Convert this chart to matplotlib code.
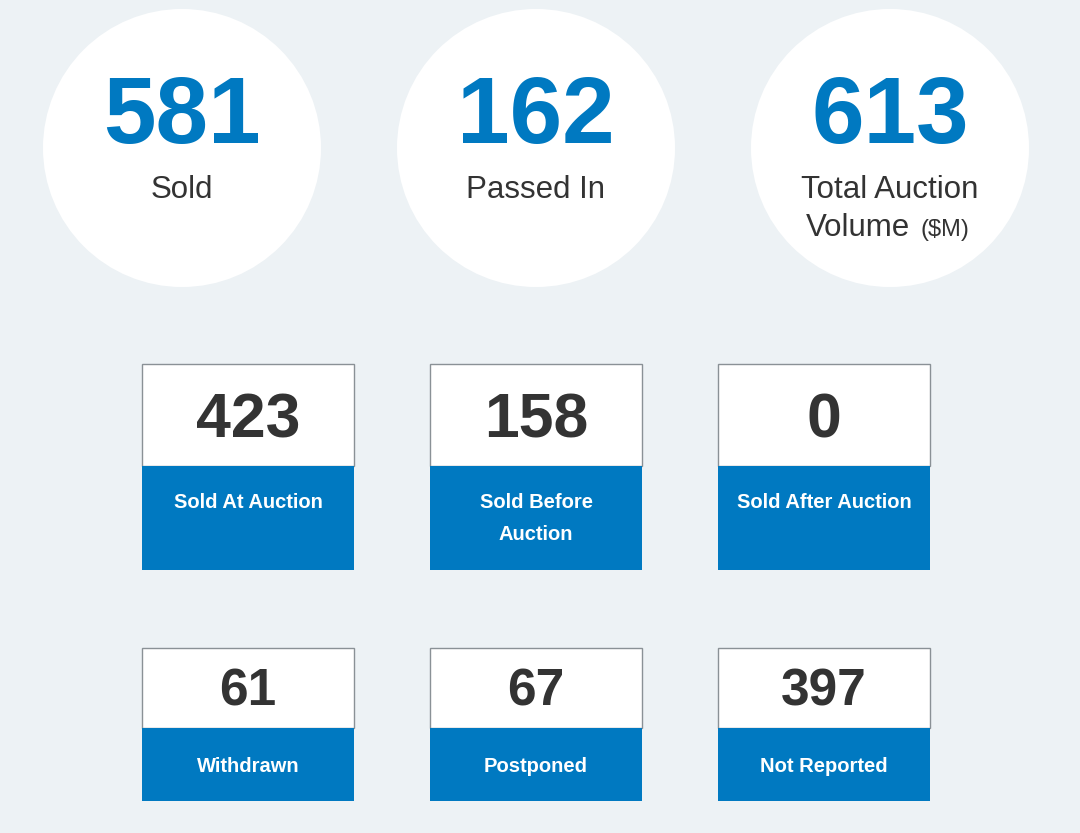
import matplotlib.pyplot as plt
from matplotlib.patches import Circle, Rectangle

plt.rcParams['font.family'] = ['Liberation Sans', 'DejaVu Sans']

# headline figures in circles
circle_values = ['581', '162', '613']
circle_labels = [['Sold'], ['Passed In'], ['Total Auction', 'Volume']]

# box figures
box_values = ['423', '158', '0', '61', '67', '397']
box_labels = [['Sold At Auction'], ['Sold Before', 'Auction'], ['Sold After Auction'],
              ['Withdrawn'], ['Postponed'], ['Not Reported']]

blue = '#0079c1'
bg = '#edf2f5'
dark = '#333333'

fig = plt.figure(figsize=(10.8, 8.33), dpi=100)
fig.patch.set_facecolor(bg)
ax = fig.add_axes([0, 0, 1, 1])
ax.set_xlim(0, 1080)
ax.set_ylim(833, 0)
ax.axis('off')

cx = [182, 536, 890]
for i in range(3):
    ax.add_patch(Circle((cx[i], 148), 139, facecolor='white', edgecolor='none'))
    ax.text(cx[i], 143, circle_values[i], ha='center', va='baseline',
            fontsize=68, fontweight='bold', color=blue)
    lines = circle_labels[i]
    for j, line in enumerate(lines):
        y = 198 + j * 38
        if i == 2 and j == 1:
            ax.text(cx[i] + 20, y, line, ha='right', va='baseline', fontsize=22.5, color=dark)
            ax.text(cx[i] + 31, y, '($M)', ha='left', va='baseline', fontsize=17, color=dark)
        else:
            ax.text(cx[i], y, line, ha='center', va='baseline', fontsize=22.5, color=dark)

bx = [142, 430, 718]
bw = 212
rows = [(364, 466, 570, 45, 437), (648, 728, 801, 37, 706)]
for k in range(6):
    r = k // 3
    x0 = bx[k % 3]
    top, mid, bot, fs, ny = rows[r]
    ax.add_patch(Rectangle((x0, top), bw, mid - top, facecolor='white',
                           edgecolor='#8a9196', linewidth=1))
    ax.add_patch(Rectangle((x0, mid), bw, bot - mid, facecolor=blue, edgecolor='none'))
    ax.text(x0 + bw / 2, ny, box_values[k], ha='center', va='baseline',
            fontsize=fs, fontweight='bold', color=dark)
    ly = 508 if r == 0 else 772
    for j, line in enumerate(box_labels[k]):
        ax.text(x0 + bw / 2, ly + j * 32, line, ha='center', va='baseline',
                fontsize=14.5, fontweight='bold', color='white')

fig.savefig('out.png', dpi=100, facecolor=bg)
